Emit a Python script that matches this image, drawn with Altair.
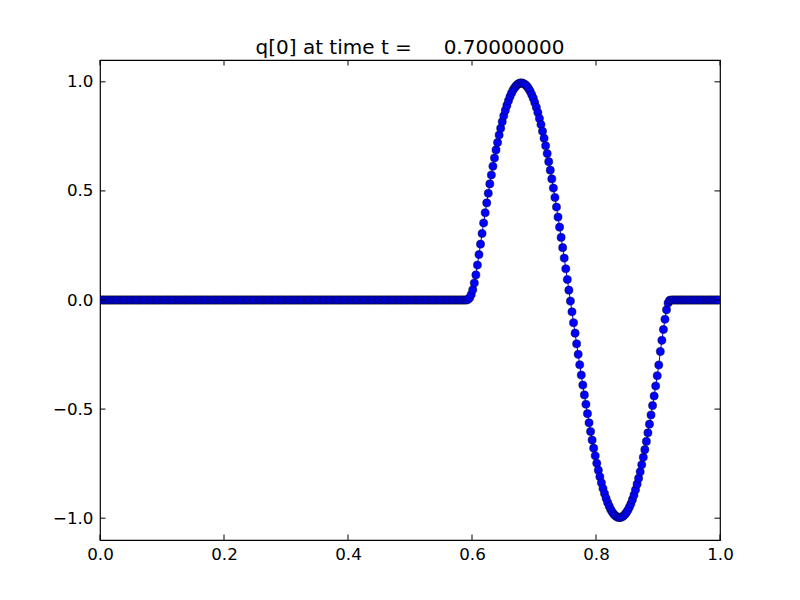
import altair as alt
import pandas as pd

# ---- data ----
n_cells = 400                      # grid of cell centres on [0, 1]
left_zero_count = 237              # cells 0..236 are 0
right_zero_count = 32              # cells 368..399 are 0

# cells 237..367: the wave packet
wave_values = [
    0.003, 0.010, 0.025, 0.047, 0.078, 0.115, 0.160, 0.208, 0.256, 0.305,
    0.353, 0.400, 0.445, 0.489, 0.532, 0.573, 0.613, 0.651, 0.688, 0.722,
    0.756, 0.787, 0.817, 0.844, 0.869, 0.892, 0.913, 0.932, 0.948, 0.962,
    0.973, 0.982, 0.989, 0.993, 0.995, 0.994, 0.991, 0.986, 0.979, 0.969,
    0.957, 0.942, 0.925, 0.905, 0.883, 0.859, 0.832, 0.804, 0.773, 0.741,
    0.707, 0.671, 0.634, 0.595, 0.555, 0.513, 0.470, 0.426, 0.380, 0.334,
    0.287, 0.240, 0.192, 0.143, 0.094, 0.045, -0.005, -0.054, -0.104, -0.152,
    -0.201, -0.249, -0.297, -0.344, -0.390, -0.435, -0.478, -0.521, -0.563, -0.603,
    -0.642, -0.679, -0.714, -0.748, -0.780, -0.810, -0.838, -0.864, -0.887, -0.909,
    -0.928, -0.945, -0.960, -0.972, -0.982, -0.989, -0.994, -0.997, -0.997, -0.995,
    -0.991, -0.984, -0.975, -0.964, -0.950, -0.934, -0.915, -0.894, -0.870, -0.844,
    -0.817, -0.787, -0.755, -0.721, -0.686, -0.648, -0.609, -0.569, -0.527, -0.484,
    -0.440, -0.394, -0.347, -0.298, -0.236, -0.185, -0.135, -0.088, -0.045, -0.014,
    -0.002,
]

x_ticks = [0.0, 0.2, 0.4, 0.6, 0.8, 1.0]
y_ticks = [-1.0, -0.5, 0.0, 0.5, 1.0]
title_text = "q[0] at time t =\u00a0\u00a0\u00a0\u00a0\u00a00.70000000"

q_values = [0.0] * left_zero_count + wave_values + [0.0] * right_zero_count
x_centers = [(i + 0.5) / n_cells for i in range(n_cells)]

df = pd.DataFrame({"x": x_centers, "q": q_values})
xt = pd.DataFrame({"x": x_ticks})
yt = pd.DataFrame({"q": y_ticks})

W, H = 620, 480
TICK = 5.5
FONT = "DejaVu Sans"

xscale = alt.Scale(domain=[0, 1], nice=False, zero=False)
yscale = alt.Scale(domain=[-1.1, 1.1], nice=False, zero=False)

xaxis = alt.Axis(values=x_ticks, format=".1f", ticks=False, domain=False, grid=False,
                 labelFont=FONT, labelFontSize=16.7, labelColor="#000000",
                 labelPadding=6, labelFlush=False, labelOverlap=False, title=None)
yaxis = alt.Axis(values=y_ticks, format=".1f", ticks=False, domain=False, grid=False,
                 labelFont=FONT, labelFontSize=16.7, labelColor="#000000",
                 labelPadding=7, labelFlush=False, labelOverlap=False, title=None)

X = alt.X("x:Q", scale=xscale, axis=xaxis)
Y = alt.Y("q:Q", scale=yscale, axis=yaxis)

line = alt.Chart(df).mark_line(color="#0000ff", strokeWidth=1, clip=True).encode(x=X, y=Y)

pts = alt.Chart(df).mark_point(
    shape="circle", filled=True, fill="#0000ff", stroke="#000000",
    strokeWidth=0.45, size=66, opacity=1, clip=True,
).encode(x=X, y=Y)

tick_style = dict(color="#000000", strokeWidth=1)
bottom_ticks = alt.Chart(xt).mark_rule(**tick_style).encode(
    x=X, y=alt.value(H), y2=alt.value(H - TICK))
top_ticks = alt.Chart(xt).mark_rule(**tick_style).encode(
    x=X, y=alt.value(0), y2=alt.value(TICK))
left_ticks = alt.Chart(yt).mark_rule(**tick_style).encode(
    y=Y, x=alt.value(0), x2=alt.value(TICK))
right_ticks = alt.Chart(yt).mark_rule(**tick_style).encode(
    y=Y, x=alt.value(W), x2=alt.value(W - TICK))

chart = alt.layer(line, pts, bottom_ticks, top_ticks, left_ticks, right_ticks).properties(
    width=W, height=H,
    title=alt.TitleParams(text=title_text, font=FONT, fontSize=20, fontWeight="normal",
                          color="#000000", anchor="middle", baseline="alphabetic", offset=-14),
    autosize=alt.AutoSizeParams(type="none"),
    padding={"left": 92, "top": 52, "right": 72, "bottom": 52},
    background="#ffffff",
).configure_view(stroke="#000000", strokeWidth=1.2)

chart.save("out.html", embed_options={"renderer": "svg", "actions": False})
